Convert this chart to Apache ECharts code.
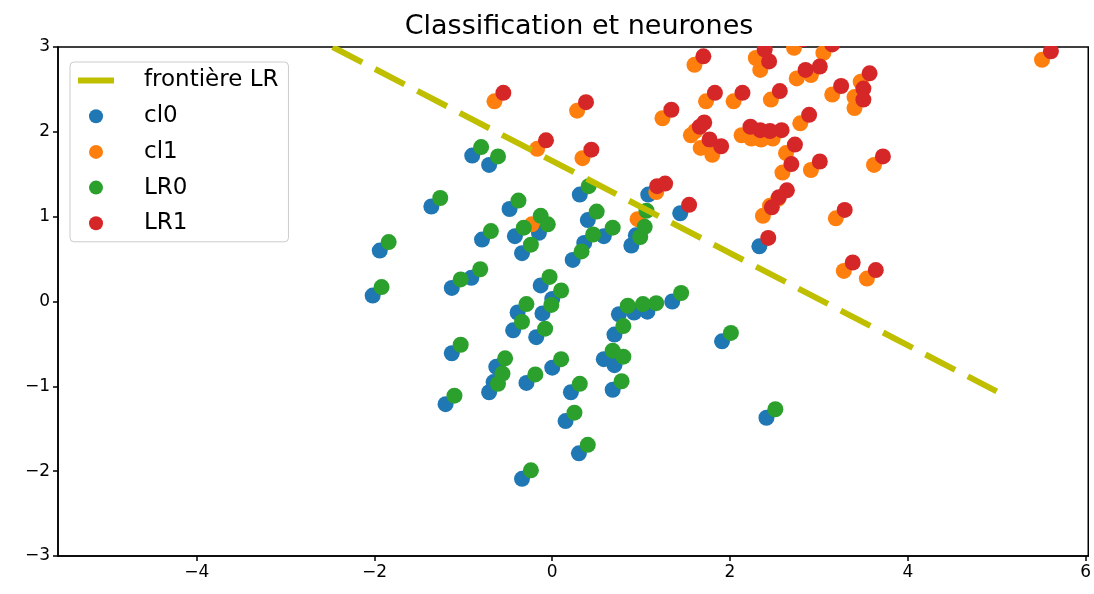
<!DOCTYPE html>
<html>
<head>
<meta charset="utf-8">
<script src="https://cdn.jsdelivr.net/npm/echarts@6/dist/echarts.min.js"></script>
<style>
  html, body { margin: 0; padding: 0; background: #fff; }
  #graphique { width: 1094px; height: 594px; }
</style>
</head>
<body>
<div id="graphique"></div>
<script>
// Points de la classe 0 (bleu) et de la classe 1 (orange)
const cl0Points = [
  [-2.02, 0.07], [-1.94, 0.60], [-1.36, 1.12], [-0.90, 1.72], [-0.71, 1.61],
  [-0.48, 1.09], [-0.79, 0.73], [-0.42, 0.77], [-0.15, 0.81], [-0.34, 0.57],
  [-1.13, 0.16], [-0.91, 0.28], [-0.13, 0.19], [0.00, 0.03], [0.23, 0.49],
  [0.31, 1.26], [-0.39, -0.13], [-0.11, -0.14], [-0.44, -0.34], [-0.18, -0.42],
  [-1.13, -0.61], [-0.63, -0.77], [-0.71, -1.07], [-0.66, -0.95], [-0.29, -0.96],
  [0.00, -0.78], [-1.20, -1.21], [0.21, -1.07], [0.15, -1.41], [0.30, -1.79],
  [-0.34, -2.09], [0.40, 0.96], [0.58, 0.77], [0.36, 0.69], [0.89, 0.66],
  [0.94, 0.78], [1.08, 1.26], [1.44, 1.04], [2.33, 0.65], [1.35, 0.00],
  [0.75, -0.15], [0.92, -0.13], [1.07, -0.12], [0.70, -0.39], [0.58, -0.68],
  [0.70, -0.75], [0.68, -1.04], [1.91, -0.47], [2.41, -1.37]
];
const cl1Points = [
  [-0.23, 0.91], [-0.17, 1.80], [-0.65, 2.36], [0.28, 2.25], [0.34, 1.69],
  [1.24, 2.16], [0.96, 0.97], [1.17, 1.29], [1.60, 2.79], [2.29, 2.87],
  [2.34, 2.73], [2.72, 2.99], [3.05, 2.93], [2.75, 2.63], [2.91, 2.67],
  [3.15, 2.44], [3.47, 2.59], [3.40, 2.41], [3.40, 2.28], [3.62, 1.61],
  [2.91, 1.55], [2.59, 1.52], [2.63, 1.75], [2.79, 2.10], [2.46, 2.38],
  [2.04, 2.36], [1.73, 2.36], [1.56, 1.96], [1.61, 2.01], [1.67, 1.81],
  [1.80, 1.73], [2.13, 1.96], [2.24, 1.92], [2.35, 1.91], [2.48, 1.92],
  [2.37, 1.01], [2.45, 1.13], [2.54, 1.21], [3.19, 0.98], [3.28, 0.36],
  [3.54, 0.27], [5.51, 2.85]
];
// Prédictions de la régression logistique (affichées légèrement décalées)
const lr0Points = [
  [-1.92, 0.17], [-1.84, 0.70], [-1.26, 1.22], [-0.80, 1.82], [-0.61, 1.71],
  [-0.38, 1.19], [-0.69, 0.83], [-0.32, 0.87], [-0.05, 0.91], [-0.24, 0.67],
  [-1.03, 0.26], [-0.81, 0.38], [-0.03, 0.29], [0.10, 0.13], [0.33, 0.59],
  [0.41, 1.36], [-0.29, -0.03], [-0.01, -0.04], [-0.34, -0.24], [-0.08, -0.32],
  [-1.03, -0.51], [-0.53, -0.67], [-0.61, -0.97], [-0.56, -0.85], [-0.19, -0.86],
  [0.10, -0.68], [-1.10, -1.11], [0.31, -0.97], [0.25, -1.31], [0.40, -1.69],
  [-0.24, -1.99], [0.50, 1.06], [0.68, 0.87], [0.46, 0.79], [0.99, 0.76],
  [1.04, 0.88], [1.45, 0.10], [0.85, -0.05], [1.02, -0.03], [1.17, -0.02],
  [0.80, -0.29], [0.68, -0.58], [0.80, -0.65], [0.78, -0.94], [2.01, -0.37],
  [2.51, -1.27], [-0.13, 1.01], [1.06, 1.07]
];
const lr1Points = [
  [1.18, 1.36], [1.54, 1.14], [2.43, 0.75],
  [-0.07, 1.90], [-0.55, 2.46], [0.38, 2.35], [0.44, 1.79], [1.34, 2.26],
  [1.27, 1.39], [1.70, 2.89], [2.39, 2.97], [2.44, 2.83], [2.82, 3.09],
  [3.15, 3.03], [2.85, 2.73], [3.01, 2.77], [3.25, 2.54], [3.57, 2.69],
  [3.50, 2.51], [3.50, 2.38], [3.72, 1.71], [3.01, 1.65], [2.69, 1.62],
  [2.73, 1.85], [2.89, 2.20], [2.56, 2.48], [2.14, 2.46], [1.83, 2.46],
  [1.66, 2.06], [1.71, 2.11], [1.77, 1.91], [1.90, 1.83], [2.23, 2.06],
  [2.34, 2.02], [2.45, 2.01], [2.58, 2.02], [2.47, 1.11], [2.55, 1.23],
  [2.64, 1.31], [3.29, 1.08], [3.38, 0.46], [3.64, 0.37], [5.61, 2.95]
];
// Frontière de décision
const frontierePoints = [[-2.47, 3.0], [5.0, -1.06]];

const xTicks = [-4, -2, 0, 2, 4, 6];

const police = 'DejaVu Sans';
const moins = v => String(v).replace('-', '\u2212');

const graphique = echarts.init(document.getElementById('graphique'));

function nuage(nom, points, couleur) {
  return {
    name: nom,
    type: 'scatter',
    data: points,
    symbolSize: 16,
    itemStyle: { color: couleur, opacity: 1 },
    z: 2,
    clip: false
  };
}

graphique.setOption({
  animation: false,
  backgroundColor: '#ffffff',
  title: {
    text: 'Classification et neurones',
    left: 574,
    textAlign: 'center',
    top: 8,
    z: 60,
    textStyle: { fontFamily: police, fontSize: 27, fontWeight: 'normal', color: '#000' }
  },
  // masque blanc au-dessus du cadre pour couper les points qui dépassent
  graphic: [{
    type: 'rect', left: 60, top: 0, z: 50,
    shape: { width: 1034, height: 46 },
    style: { fill: '#ffffff' }
  }],
  grid: {
    left: 58, right: 4, top: 47, bottom: 38,
    show: true, borderColor: '#000', borderWidth: 1.5
  },
  legend: {
    orient: 'vertical',
    left: 70, top: 62,
    padding: [7, 10, 7, 8],
    itemWidth: 36, itemHeight: 14, itemGap: 12.7,
    borderColor: '#cccccc', borderWidth: 1, borderRadius: 4,
    backgroundColor: 'rgba(255,255,255,0.8)',
    textStyle: { fontFamily: police, fontSize: 23, color: '#000', padding: [0, 0, 0, 25] },
    data: [
      { name: 'frontière LR', icon: 'path://M0,0H36V6H0Z' },
      { name: 'cl0', icon: 'circle' },
      { name: 'cl1', icon: 'circle' },
      { name: 'LR0', icon: 'circle' },
      { name: 'LR1', icon: 'circle' }
    ]
  },
  xAxis: {
    type: 'value',
    min: -5.56, max: 6.03,
    splitLine: { show: false },
    axisLine: { onZero: false, lineStyle: { color: '#000', width: 1.5 } },
    axisTick: { customValues: xTicks, length: 5, lineStyle: { color: '#000', width: 1.5 } },
    axisLabel: {
      customValues: xTicks, margin: 8,
      fontFamily: police, fontSize: 17, color: '#000',
      formatter: moins
    }
  },
  yAxis: {
    type: 'value',
    min: -3, max: 3, interval: 1,
    splitLine: { show: false },
    axisLine: { show: true, onZero: false, lineStyle: { color: '#000', width: 1.5 } },
    axisTick: { show: true, length: 5, lineStyle: { color: '#000', width: 1.5 } },
    axisLabel: {
      margin: 8,
      fontFamily: police, fontSize: 17, color: '#000',
      formatter: moins
    }
  },
  series: [
    {
      name: 'frontière LR',
      type: 'line',
      data: frontierePoints,
      showSymbol: false,
      clip: true,
      z: 3,
      itemStyle: { color: '#bfbf00' },
      lineStyle: { color: '#bfbf00', width: 6, type: [33.3, 14.4], cap: 'butt' }
    },
    nuage('cl0', cl0Points, '#1f77b4'),
    nuage('cl1', cl1Points, '#ff7f0e'),
    nuage('LR0', lr0Points, '#2ca02c'),
    nuage('LR1', lr1Points, '#d62728')
  ]
});
</script>
</body>
</html>
